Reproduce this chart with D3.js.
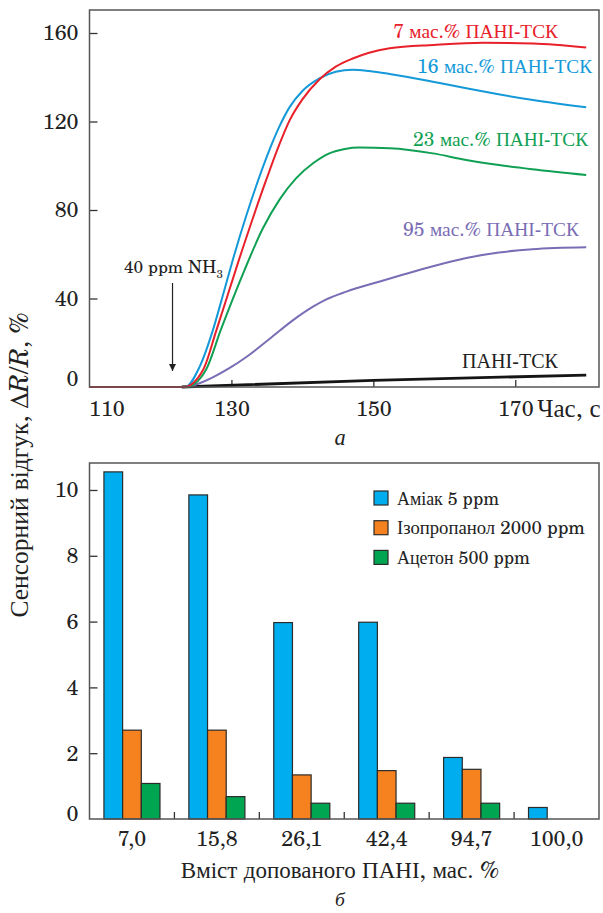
<!DOCTYPE html>
<html><head><meta charset="utf-8">
<script src="https://cdn.jsdelivr.net/npm/d3@7"></script>
<style>
html,body{margin:0;padding:0;background:#fff;}
text{fill:#222;}
</style></head>
<body><svg id="c" width="603" height="913"></svg>
<script>
// ---------- Data: panel a (response vs time) ----------
const redT   = [110,123.3,126,127.9,130.9,134.9,136.8,138.2,140,142.4,144.7,147.1,149.4,152.3,158.5,165.5,172.5,180];
const redV   = [0,0,7.7,25.8,55.9,93.6,110,120.5,130,139,144.8,148.5,151.1,153.1,154.6,155.6,155.3,153.5];
const blueT  = [110,123.5,125.5,127.4,128.8,130.2,132.1,134,135.4,136.8,138.2,140,142.4,144.7,147.1,149.4,152.3,158.4,163.1,172.5,180];
const blueV  = [0,0,9,25.8,41.5,57.5,77.5,95.5,107.5,118,126.5,133.8,139.5,142.5,143.4,142.8,141.5,138,135,129.7,126.4];
const greenT = [110,123.6,126.4,128.5,131.8,134.4,136.8,139.1,141.5,143.8,146,148,152.3,158.4,163.1,167.7,172.4,180];
const greenV = [0,0,7.7,25.8,52.5,71.5,84.8,94.3,101.1,105.6,107.6,108.2,107.9,105.6,102.6,100.3,98.4,95.8];
const purpT  = [110,123.5,125.5,129.7,132.2,135.4,138.6,141.5,143.3,146.2,150.8,154,158.4,163.1,167.7,172.4,180];
const purpV  = [0,0,1.7,8.5,13.8,21.8,30,36.3,39.5,43.1,47.6,50.6,54.6,58.3,60.8,62.3,63.2];
const blackT = [123,150,180];
const blackV = [0,3,5.4];
const seriesNamesA = ["ПАНІ-ТСК","95 мас.% ПАНІ-ТСК","23 мас.% ПАНІ-ТСК","16 мас.% ПАНІ-ТСК","7 мас.% ПАНІ-ТСК"];
const xTicksA = [110,130,150,170];
const yTicksA = [0,40,80,120,160];
const injectionTime = 121.7;

// ---------- Data: panel b (bars) ----------
const categoriesB = ["7,0","15,8","26,1","42,4","94,7","100,0"];
const ammonia     = [10.55,9.85,5.97,5.98,1.87,0.35];
const isopropanol = [2.70,2.70,1.34,1.47,1.51,0];
const acetone     = [1.08,0.68,0.48,0.48,0.48,0];
const seriesNamesB = ["Аміак 5 ppm","Ізопропанол 2000 ppm","Ацетон 500 ppm"];
const yTicksB = [0,2,4,6,8,10];

// ---------- pick installed serif faces (Latin and Cyrillic coverage) ----------
function pickFont(){
  const latC = ["C059","TeX Gyre Schola","Century Schoolbook L","New Century Schoolbook",
    "Liberation Serif","Tinos","DejaVu Serif","Noto Serif","FreeSerif","Nimbus Roman","Times New Roman"];
  const cyrC = ["C059","Liberation Serif","Tinos","DejaVu Serif","Noto Serif","FreeSerif","PT Serif",
    "Nimbus Roman","Times New Roman","Noto Serif CJK SC","Noto Serif CJK JP","Noto Serif CJK KR",
    "Noto Serif CJK TC","Source Han Serif SC","Source Han Serif","Georgia","Droid Serif","Gelasio",
    "Libertinus Serif","Linux Libertine O","Charis SIL","Gentium Plus","Bitstream Charter","STIX Two Text","STIXGeneral","Cambria"];
  const ctx = document.createElement("canvas").getContext("2d");
  const fbs = ["monospace","sans-serif"];
  const has = (f, s) => fbs.every(fb=>{
    ctx.font = "40px " + fb; const b = ctx.measureText(s).width;
    ctx.font = `40px "${f}", ${fb}`; return Math.abs(ctx.measureText(s).width - b) > 0.5; });
  const lat = latC.find(f=>has(f,"Hxg1 ppm 2000 %"));
  const cyr = cyrC.find(f=>has(f,"СенсорнийвідгукПАНІТСКмас"));
  const stack = [];
  if (lat) stack.push(`"${lat}"`);
  if (cyr && cyr!==lat) stack.push(`"${cyr}"`);
  stack.push("serif");
  return stack.join(", ");
}

const svg = d3.select("#c").style("font-family", pickFont());
const frameColor = "#555";
const FS = (sel, s) => sel.attr("data-fs", s).attr("font-size", s);
const fitList = [];   // [selection, target width px, max font size]

// ================= Panel a =================
const A = {l:89.5, r:599, t:10, b:387};
const xA = d3.scaleLinear().domain([110,181.8]).range([A.l,A.r]);
const yA = d3.scaleLinear().domain([0,170.4]).range([A.b,A.t]);

const gA = svg.append("g");
const axB = d3.axisBottom(xA).tickValues(xTicksA).tickSize(-7).tickPadding(14).tickFormat(d=>d);
const gxA = gA.append("g").attr("transform",`translate(0,${A.b})`).call(axB);
gxA.attr("font-family",null).attr("font-size",null);
gxA.select(".domain").remove();
gxA.selectAll(".tick line").attr("stroke","#333").attr("stroke-width",1.3);
FS(gxA.selectAll(".tick text").attr("fill","#222"), 23);
gxA.selectAll(".tick").filter(d=>d===110).select("line").remove();
gxA.selectAll(".tick").filter(d=>d===110).select("text").attr("text-anchor","start").attr("x",-1);
const unitA = FS(gA.append("text").attr("x",xA(170)+22).attr("y",A.b+30), 23).text("Час, с");
fitList.push([unitA, 64, 25]);

const axL = d3.axisLeft(yA).tickValues(yTicksA).tickSize(-8).tickPadding(11).tickFormat(d=>d);
const gyA = gA.append("g").attr("transform",`translate(${A.l},0)`).call(axL);
gyA.attr("font-family",null).attr("font-size",null);
gyA.select(".domain").remove();
gyA.selectAll(".tick line").attr("stroke","#333").attr("stroke-width",1.3);
FS(gyA.selectAll(".tick text").attr("fill","#222"), 23);
gyA.selectAll(".tick").filter(d=>d===0).select("line").remove();
gyA.selectAll(".tick").filter(d=>d===0).select("text").attr("dy","-0.05em");

const line = d3.line().x(d=>xA(d[0])).y(d=>yA(d[1])).curve(d3.curveMonotoneX);
const zip = (t,v)=>t.map((x,i)=>[x,v[i]]);
const linesA = [
  {t:blackT,v:blackV,c:"#151515",w:2.8},
  {t:purpT,v:purpV,c:"#7a6db5",w:2},
  {t:greenT,v:greenV,c:"#10a054",w:2},
  {t:blueT,v:blueV,c:"#1499d8",w:2},
  {t:redT,v:redV,c:"#e8202a",w:2}
];
gA.selectAll("path.ln").data(linesA).join("path").attr("class","ln")
  .attr("d",d=>line(zip(d.t,d.v))).attr("fill","none")
  .attr("stroke",d=>d.c).attr("stroke-width",d=>d.w);

gA.append("rect").attr("x",A.l).attr("y",A.t).attr("width",A.r-A.l).attr("height",A.b-A.t)
  .attr("fill","none").attr("stroke",frameColor).attr("stroke-width",1.5);

const labA = [
  {n:seriesNamesA[4],x:558,y:38,c:"#e8202a",w:165},
  {n:seriesNamesA[3],x:592,y:73,c:"#1499d8",w:175},
  {n:seriesNamesA[2],x:588,y:146,c:"#10a054",w:175},
  {n:seriesNamesA[1],x:579,y:236,c:"#7a6db5",w:176},
  {n:seriesNamesA[0],x:558,y:368,c:"#222",w:96}
];
const slab = FS(gA.selectAll("text.sl").data(labA).join("text").attr("class","sl")
  .attr("x",d=>d.x).attr("y",d=>d.y).attr("text-anchor","end"), 19.5)
  .style("fill",d=>d.c).text(d=>d.n);
slab.each(function(d){ fitList.push([d3.select(this), d.w, 21]); });

const ann = FS(gA.append("text").attr("x",124).attr("y",273), 19.5);
ann.append("tspan").text("40 ppm NH");
FS(ann.append("tspan").attr("dy",5), 13).text("3");
fitList.push([ann, 99, 21]);
svg.append("defs").append("marker").attr("id","ah").attr("viewBox","0 0 10 10")
  .attr("refX",10).attr("refY",5).attr("markerWidth",7).attr("markerHeight",9)
  .attr("markerUnits","userSpaceOnUse").attr("orient","auto")
  .append("path").attr("d","M0,0 L10,5 L0,10 z").attr("fill","#222");
gA.append("line").attr("x1",xA(injectionTime)).attr("x2",xA(injectionTime))
  .attr("y1",283).attr("y2",371).attr("stroke","#222").attr("stroke-width",1.2)
  .attr("marker-end","url(#ah)");

FS(gA.append("text").attr("x",340).attr("y",445), 24)
  .attr("font-style","italic").attr("text-anchor","middle").text("а");

// ================= Panel b =================
const B = {l:89.5, r:599, t:463, b:819};
const xB = d3.scaleBand().domain(categoriesB).range([B.l,B.r]).paddingInner(0.34).paddingOuter(0.17);
const x1 = d3.scaleBand().domain([0,1,2]).range([0,xB.bandwidth()]);
const yB = d3.scaleLinear().domain([0,10.82]).range([B.b,B.t]);
const gB = svg.append("g");

const barColors = ["#00aeef","#f5821f","#00a551"];
const seriesB = [ammonia,isopropanol,acetone];
const barData = [];
categoriesB.forEach((c,i)=>seriesB.forEach((s,j)=>{ if(s[i]>0) barData.push({c,j,v:s[i]}); }));
gB.selectAll("rect.bar").data(barData).join("rect").attr("class","bar")
  .attr("x",d=>xB(d.c)+x1(d.j)).attr("width",x1.bandwidth())
  .attr("y",d=>yB(d.v)).attr("height",d=>yB(0)-yB(d.v))
  .attr("fill",d=>barColors[d.j]).attr("stroke","#2b2b2b").attr("stroke-width",1.2);

const gxB = gB.append("g").attr("transform",`translate(0,${B.b})`)
  .call(d3.axisBottom(xB).tickSize(0).tickPadding(12));
gxB.attr("font-family",null).attr("font-size",null);
gxB.select(".domain").remove();
FS(gxB.selectAll(".tick text").attr("fill","#222"), 23);
const seps = categoriesB.slice(1).map((c,i)=>(xB(categoriesB[i])+xB.bandwidth()+xB(c))/2);
gB.selectAll("line.sep").data(seps).join("line").attr("class","sep")
  .attr("x1",d=>d).attr("x2",d=>d).attr("y1",B.b).attr("y2",B.b-7)
  .attr("stroke","#333").attr("stroke-width",1.3);

const gyB = gB.append("g").attr("transform",`translate(${B.l},0)`)
  .call(d3.axisLeft(yB).tickValues(yTicksB).tickSize(-8).tickPadding(11));
gyB.attr("font-family",null).attr("font-size",null);
gyB.select(".domain").remove();
gyB.selectAll(".tick line").attr("stroke","#333").attr("stroke-width",1.3);
FS(gyB.selectAll(".tick text").attr("fill","#222"), 23);
gyB.selectAll(".tick").filter(d=>d===0).select("line").remove();
gyB.selectAll(".tick").filter(d=>d===0).select("text").attr("dy","0.05em");

gB.append("rect").attr("x",B.l).attr("y",B.t).attr("width",B.r-B.l).attr("height",B.b-B.t)
  .attr("fill","none").attr("stroke",frameColor).attr("stroke-width",1.5);

const legW = [102,188,133];
const leg = gB.selectAll("g.leg").data(seriesNamesB).join("g").attr("class","leg")
  .attr("transform",(d,i)=>`translate(374,${498+i*29.7})`);
leg.append("rect").attr("x",0).attr("y",-7).attr("width",14).attr("height",14)
  .attr("fill",(d,i)=>barColors[i]).attr("stroke","#2b2b2b").attr("stroke-width",1.2);
const legText = FS(leg.append("text").attr("x",23).attr("y",6.5), 20).text(d=>d);
legText.each(function(d,i){ fitList.push([d3.select(this), legW[i], 21]); });

const xtB = FS(gB.append("text").attr("x",340).attr("y",878), 22)
  .attr("text-anchor","middle").text("Вміст допованого ПАНІ, мас. %");
fitList.push([xtB, 340, 23]);
FS(gB.append("text").attr("x",340).attr("y",906), 21)
  .attr("font-style","italic").attr("text-anchor","middle").text("б");

const yt = FS(svg.append("text").attr("transform","translate(28,465) rotate(-90)")
  .attr("text-anchor","middle"), 24);
yt.append("tspan").text("Сенсорний відгук, Δ");
yt.append("tspan").attr("font-style","italic").text("R");
yt.append("tspan").text("/");
yt.append("tspan").attr("font-style","italic").text("R");
yt.append("tspan").text(", %");
fitList.push([yt, 305, 27]);

// normalise font sizes (global), then fit labelled texts to the reference widths
const probeW = legText.nodes()[1].getComputedTextLength();
const k = probeW > 0 ? Math.min(1.15, Math.max(0.85, 188 / probeW)) : 1;
svg.selectAll("[data-fs]").each(function(){
  const s = +this.getAttribute("data-fs");
  this.setAttribute("font-size", (s*k).toFixed(2));
});
fitList.forEach(([sel, target, maxFs])=>{
  const node = sel.node();
  const w = node.getComputedTextLength();
  if (!(w > 0)) return;
  const cur = parseFloat(node.getAttribute("font-size"));
  let r = Math.max(0.8, Math.min(1.3, target / w));
  if (cur*r > maxFs) r = maxFs / cur;
  [node, ...node.querySelectorAll("tspan[font-size]")].forEach(n=>{
    const fs = parseFloat(n.getAttribute("font-size"));
    if (fs) n.setAttribute("font-size", (fs*r).toFixed(2));
  });
});
</script></body></html>
